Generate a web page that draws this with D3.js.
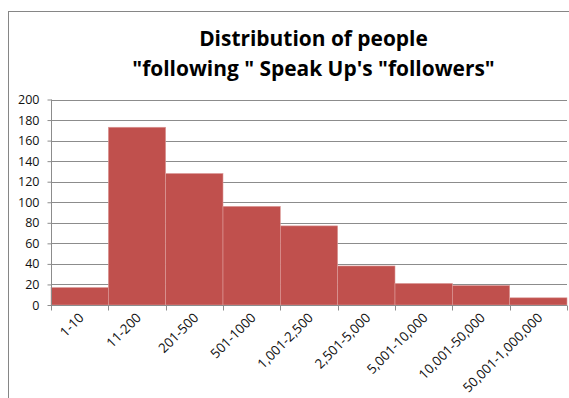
<!DOCTYPE html>
<html><head><meta charset="utf-8">
<script src="https://cdn.jsdelivr.net/npm/d3@7"></script>
<style>body{margin:0;background:#fff}svg{display:block}</style>
</head><body>
<script>
const categories = ["1-10","11-200","201-500","501-1000","1,001-2,500","2,501-5,000","5,001-10,000","10,001-50,000","50,001-1,000,000"];
const counts = [17,173,128,96,77,38,21,19,7];
const yTicks = [0,20,40,60,80,100,120,140,160,180,200];
const titleLines = ["Distribution of people","\"following \" Speak Up's \"followers\""];

const W = 569, H = 398;
const svg = d3.select("body").append("svg").attr("width",W).attr("height",H);
svg.append("rect").attr("x",8.5).attr("y",11.5).attr("width",600).attr("height",500)
  .attr("fill","#fff").attr("stroke","#868686");

const x = d3.scaleBand().domain(categories).range([51,567]).padding(0);
const y = d3.scaleLinear().domain([0,200]).range([305,99.5]);

// gridlines
svg.append("g").selectAll("line").data(yTicks.filter(d=>d>0)).join("line")
  .attr("x1",51).attr("x2",567).attr("y1",d=>Math.round(y(d))+0.5).attr("y2",d=>Math.round(y(d))+0.5)
  .attr("stroke","#8c8c8c").attr("stroke-width",1);

// bars
svg.append("g").selectAll("rect").data(counts).join("rect")
  .attr("x",(d,i)=>x(categories[i]))
  .attr("width",x.bandwidth())
  .attr("y",d=>y(d))
  .attr("height",d=>y(0)-y(d))
  .attr("fill","#C0504D").attr("stroke","#dd9c9a").attr("stroke-width",0.6);

// y axis
const yAxis = d3.axisLeft(y).tickValues(yTicks).tickSize(4).tickPadding(8);
const gy = svg.append("g").attr("transform","translate(51.5,0)").call(yAxis);
gy.select(".domain").attr("stroke","#8c8c8c").attr("d","M0,"+y(200)+"V"+y(0));
gy.selectAll(".tick line").attr("stroke","#8c8c8c");
gy.selectAll(".tick text").attr("font-family","'Open Sans', sans-serif").attr("font-size","12.5px").attr("fill","#111");

// x axis
const gx = svg.append("g").attr("transform","translate(0,305.5)");
gx.append("line").attr("x1",51).attr("x2",567).attr("stroke","#8c8c8c");
const edges = categories.map(c=>x(c)).concat([x.range()[1]]);
gx.selectAll("line.t").data(edges).join("line").attr("class","t")
  .attr("x1",d=>Math.round(d)+0.5).attr("x2",d=>Math.round(d)+0.5).attr("y1",0).attr("y2",5).attr("stroke","#8c8c8c");
gx.selectAll("text").data(categories).join("text")
  .attr("transform",d=>`translate(${x(d)+x.bandwidth()/2+5},${13}) rotate(-45)`)
  .attr("text-anchor","end")
  .attr("font-family","'Open Sans', sans-serif").attr("font-size","13.3px").attr("fill","#111")
  .text(d=>d);

// title
const targets = [226, 367];
const tt = svg.append("g").selectAll("text").data(titleLines).join("text")
  .attr("x",313.5).attr("y",(d,i)=>46+i*30)
  .attr("text-anchor","middle")
  .attr("font-family","'Open Sans', sans-serif").attr("font-weight","bold").attr("font-size","20px").attr("fill","#000")
  .text(d=>d);
let ratio = 0;
tt.each(function(d,i){ ratio += targets[i]/this.getComputedTextLength(); });
tt.attr("font-size", (20*ratio/2).toFixed(2)+"px");
</script>
</body></html>
